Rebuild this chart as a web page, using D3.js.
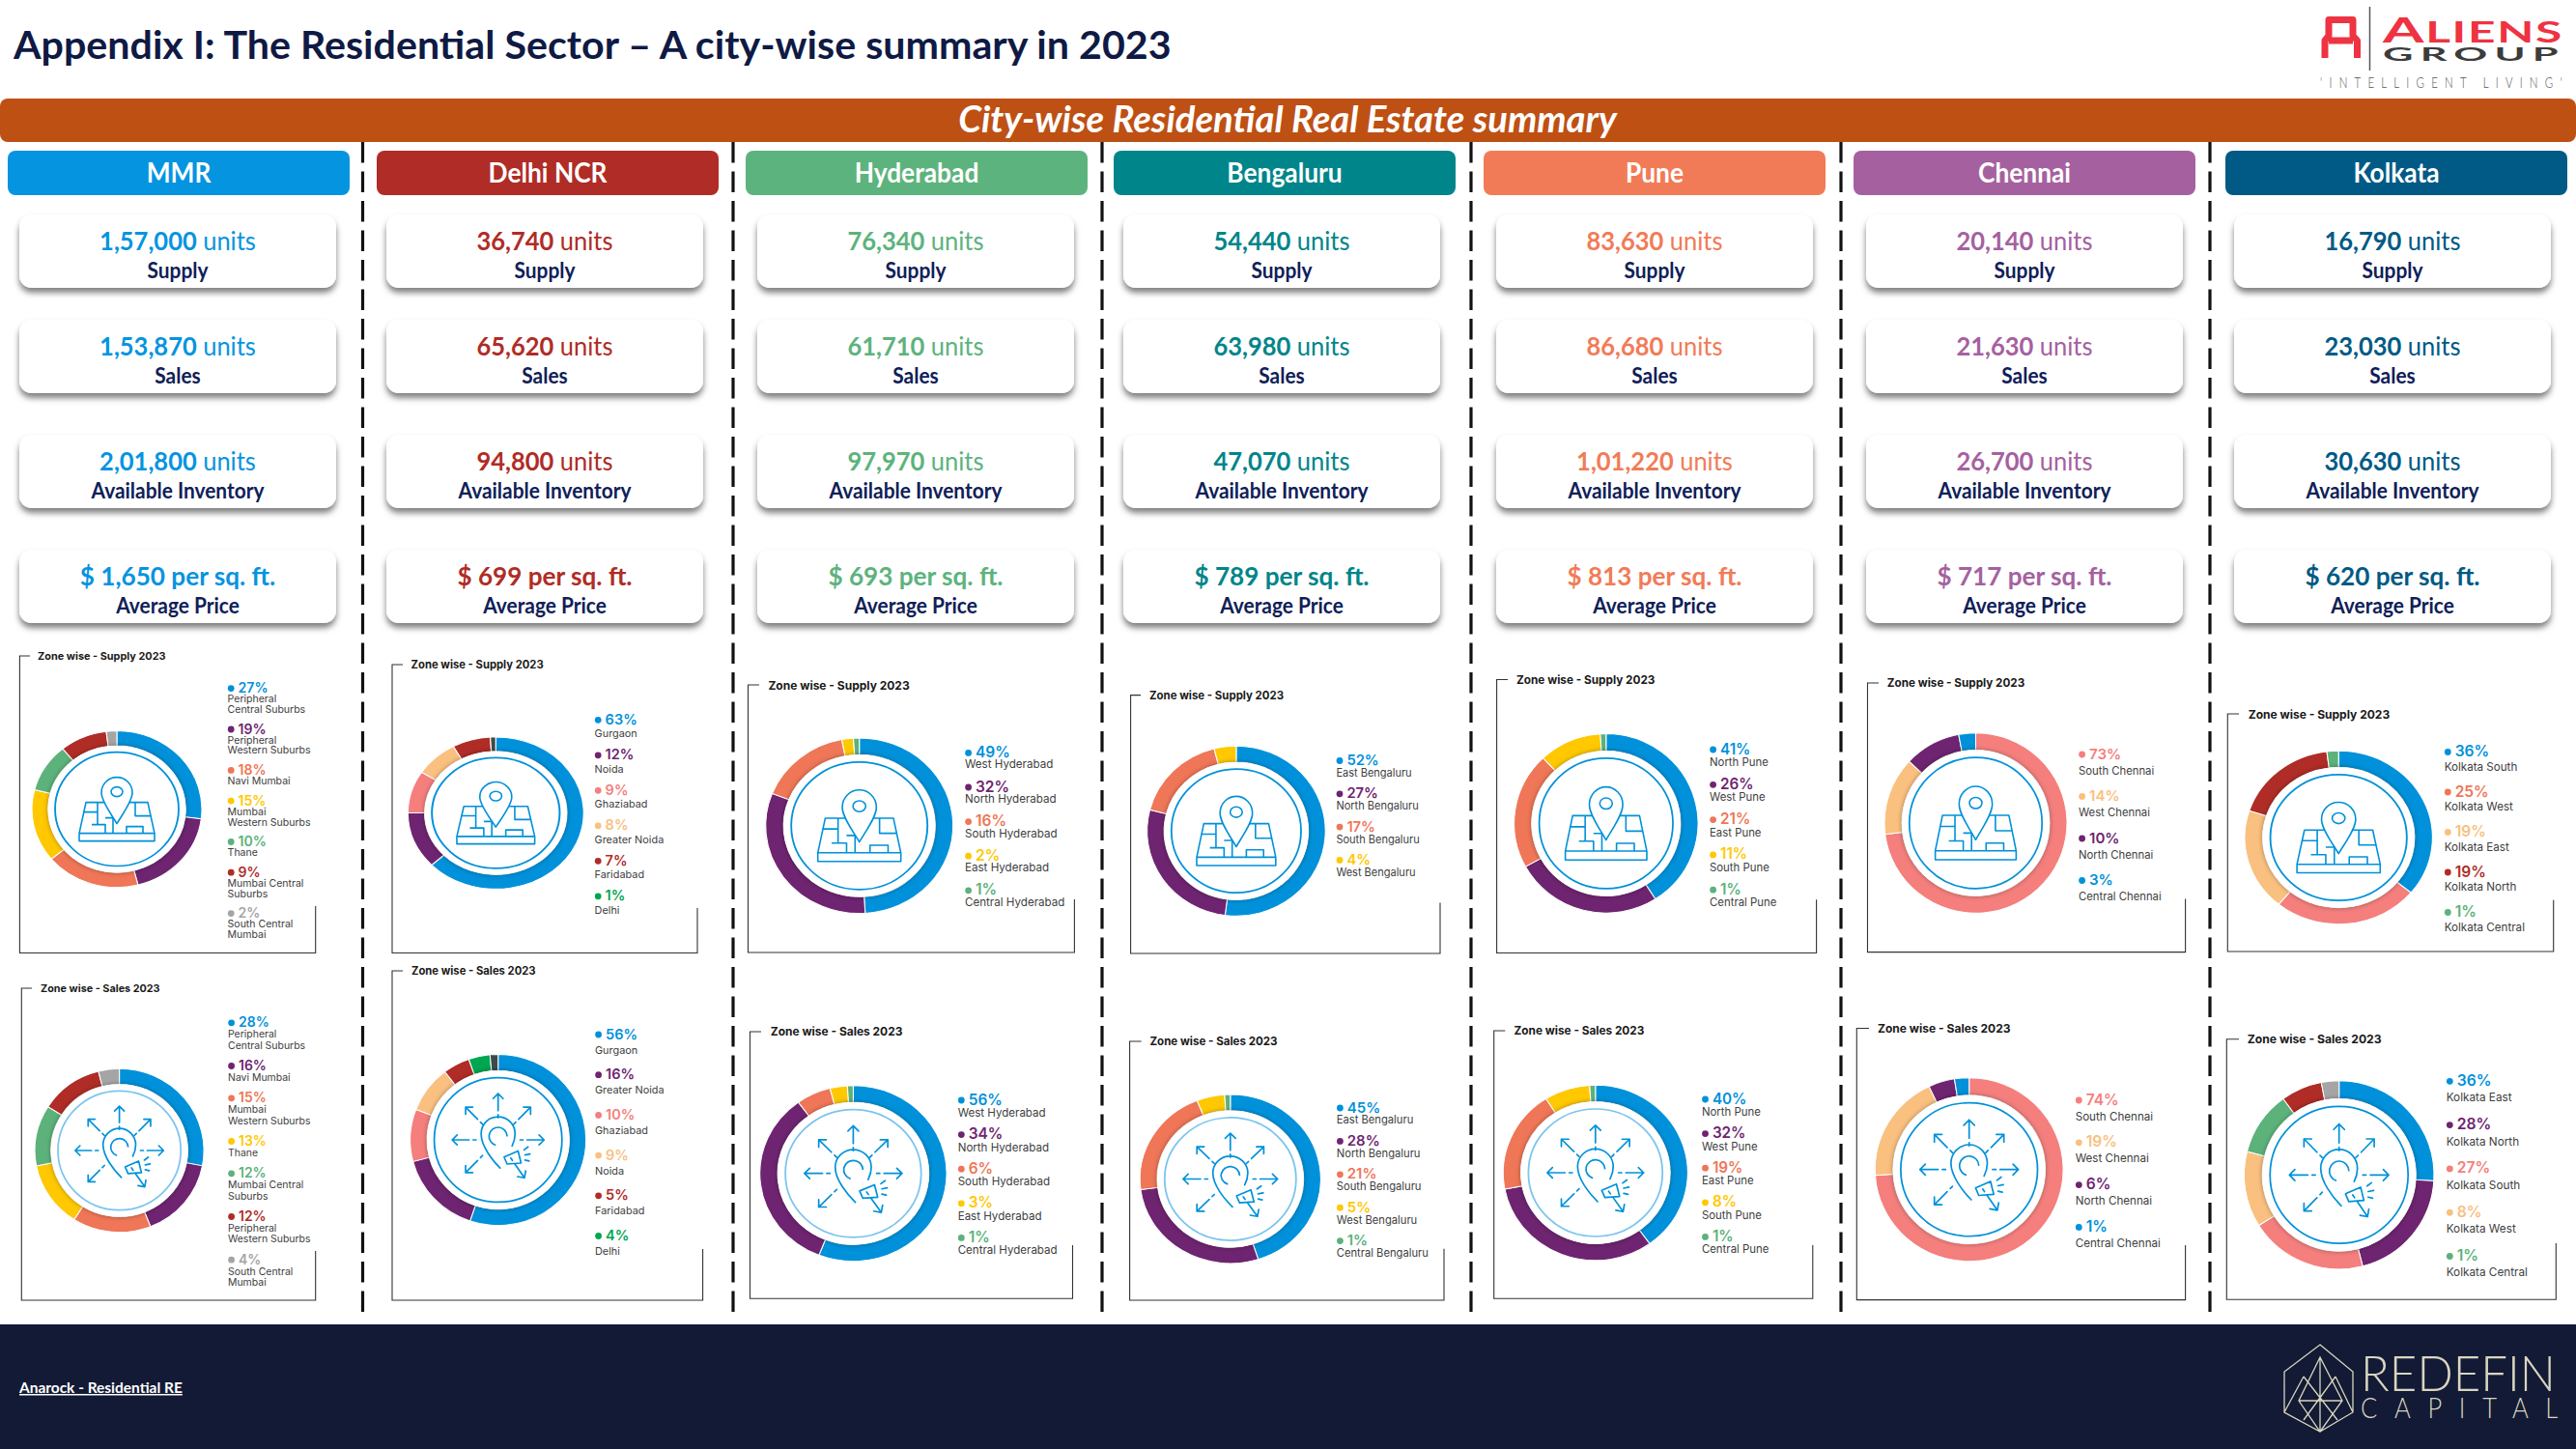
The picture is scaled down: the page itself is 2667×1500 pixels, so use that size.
<!DOCTYPE html>
<html>
<head>
<meta charset="utf-8">
<title>City-wise Residential Real Estate summary</title>
<script src="https://cdn.jsdelivr.net/npm/d3@7"></script>
<style>
  html, body { margin: 0; padding: 0; background: #fff; }
  svg { display: block; }
  text { font-family: Lato, "Open Sans", sans-serif; }
  .zone text { font-family: Inter, "DejaVu Sans", sans-serif; }
</style>
</head>
<body>
<div id="chart"></div>
<script>
// 1) Data
const cities = ["MMR", "Delhi NCR", "Hyderabad", "Bengaluru", "Pune", "Chennai", "Kolkata"];
const supplyUnits = ["1,57,000", "36,740", "76,340", "54,440", "83,630", "20,140", "16,790"];
const salesUnits = ["1,53,870", "65,620", "61,710", "63,980", "86,680", "21,630", "23,030"];
const inventoryUnits = ["2,01,800", "94,800", "97,970", "47,070", "1,01,220", "26,700", "30,630"];
const avgPrice = ["1,650", "699", "693", "789", "813", "717", "620"];

// "|" is a line break in the legend label
const supplyZones = [
  ["Peripheral|Central Suburbs", "Peripheral|Western Suburbs", "Navi Mumbai", "Mumbai|Western Suburbs", "Thane", "Mumbai Central|Suburbs", "South Central|Mumbai"],
  ["Gurgaon", "Noida", "Ghaziabad", "Greater Noida", "Faridabad", "Delhi"],
  ["West Hyderabad", "North Hyderabad", "South Hyderabad", "East Hyderabad", "Central Hyderabad"],
  ["East Bengaluru", "North Bengaluru", "South Bengaluru", "West Bengaluru"],
  ["North Pune", "West Pune", "East Pune", "South Pune", "Central Pune"],
  ["South Chennai", "West Chennai", "North Chennai", "Central Chennai"],
  ["Kolkata South", "Kolkata West", "Kolkata East", "Kolkata North", "Kolkata Central"]
];
const supplyShares = [
  [27, 19, 18, 15, 10, 9, 2],
  [63, 12, 9, 8, 7, 1],
  [49, 32, 16, 2, 1],
  [52, 27, 17, 4],
  [41, 26, 21, 11, 1],
  [73, 14, 10, 3],
  [36, 25, 19, 19, 1]
];
const salesZones = [
  ["Peripheral|Central Suburbs", "Navi Mumbai", "Mumbai|Western Suburbs", "Thane", "Mumbai Central|Suburbs", "Peripheral|Western Suburbs", "South Central|Mumbai"],
  ["Gurgaon", "Greater Noida", "Ghaziabad", "Noida", "Faridabad", "Delhi"],
  ["West Hyderabad", "North Hyderabad", "South Hyderabad", "East Hyderabad", "Central Hyderabad"],
  ["East Bengaluru", "North Bengaluru", "South Bengaluru", "West Bengaluru", "Central Bengaluru"],
  ["North Pune", "West Pune", "East Pune", "South Pune", "Central Pune"],
  ["South Chennai", "West Chennai", "North Chennai", "Central Chennai"],
  ["Kolkata East", "Kolkata North", "Kolkata South", "Kolkata West", "Kolkata Central"]
];
const salesShares = [
  [28, 16, 15, 13, 12, 12, 4],
  [56, 16, 10, 9, 5, 4],
  [56, 34, 6, 3, 1],
  [45, 28, 21, 5, 1],
  [40, 32, 19, 8, 1],
  [74, 19, 6, 1],
  [36, 28, 27, 8, 1]
];
// what the rings actually show (not always the same as the printed legend)
const supplySlices = [
  [27, 19, 18, 15, 10, 9, 2],
  [63, 12, 9, 8, 7, 1],
  [49, 32, 16, 2, 1],
  [52, 27, 17, 4],
  [41, 26, 21, 11, 1],
  [73, 14, 10, 3],
  [36, 25, 19, 18, 2]
];
const salesSlices = [
  [28, 16, 15, 13, 12, 12, 4],
  [56, 16, 10, 9, 5, 4, 1.5],
  [56, 34, 6, 3, 1],
  [45, 28, 21, 5, 1],
  [40, 32, 19, 8, 1],
  [74, 19, 4.5, 2.5],
  [26, 20, 20, 13, 11, 7, 3]
];

// 2) Colours
const blue = "#0091da", purple = "#6e2470", coral = "#ef7657", yellow = "#ffc800", green = "#5cb27a",
      crimson = "#b02c26", gray = "#a5a5a5", peach = "#fac07f", salmon = "#f47f7d", emerald = "#00a650", slate = "#3b4b4b";
const cityColors = ["#0594df", "#b02c26", "#5db37d", "#00858a", "#f27b57", "#a5619f", "#005a85"];

const supplyDots = [
  [blue, purple, coral, yellow, green, crimson, gray],
  [blue, purple, salmon, peach, crimson, emerald],
  [blue, purple, coral, yellow, green],
  [blue, purple, coral, yellow],
  [blue, purple, coral, yellow, green],
  [salmon, peach, purple, blue],
  [blue, coral, peach, crimson, green]
];
const supplyRing = [
  supplyDots[0],
  [blue, purple, salmon, peach, crimson, slate],
  supplyDots[2], supplyDots[3], supplyDots[4], supplyDots[5],
  [blue, salmon, peach, crimson, green]
];
const salesDots = [
  [blue, purple, coral, yellow, green, crimson, gray],
  [blue, purple, salmon, peach, crimson, emerald],
  [blue, purple, coral, yellow, green],
  [blue, purple, coral, yellow, green],
  [blue, purple, coral, yellow, green],
  [salmon, peach, purple, blue],
  [blue, purple, salmon, peach, green]
];
const salesRing = [
  salesDots[0],
  [blue, purple, salmon, peach, crimson, emerald, slate],
  salesDots[2], salesDots[3], salesDots[4], salesDots[5],
  [blue, purple, salmon, peach, green, crimson, gray]
];
const salesCircle = ["#7cc5ee", blue, "#7cc5ee", "#7cc5ee", "#7cc5ee", blue, blue];

// 3) Page layout
const W = 2667, H = 1500;
const headerLeft = [8, 390, 772, 1153, 1536, 1919, 2304], headerW = 354;
const cardLeft = [20, 400, 784, 1163, 1549, 1932, 2313], cardW = 328, cardH = 76;
const cardTop = [222, 331, 450, 569];
const sepX = [375.5, 759, 1141, 1523, 1906, 2288];

// frame: l,t,r,b,rt (top of right edge), tick, tx (title x); ring: cx,cy,rx,ry; legend: lx,ly,off,lh,gap
const supplyBoxes = [
  {l:20.4, t:679, r:326.7, b:986.5, rt:938, tick:31, tx:39, cx:121, cy:837.6, rx:88, ry:81, lx:235.6, ly:711.6, off:11.7, lh:10.7, gap:20},
  {l:406, t:688, r:722, b:986.5, rt:940, tick:417, tx:425.6, cx:513.3, cy:841.6, rx:91, ry:78.7, lx:615.6, ly:744.3, off:14.8, lh:11, gap:21.7},
  {l:774.5, t:709, r:1112.4, b:986, rt:931, tick:786, tx:795.4, cx:889.7, cy:854.8, rx:97, ry:90.8, lx:999, ly:778.4, off:13, lh:11, gap:22.6},
  {l:1170.6, t:719.6, r:1491, b:987, rt:934.4, tick:1181, tx:1190, cx:1279.9, cy:860.2, rx:92.3, ry:88, lx:1383.4, ly:786.5, off:13.4, lh:11, gap:20.9},
  {l:1549.6, t:703.5, r:1880.6, b:986.5, rt:931.3, tick:1561, tx:1570, cx:1662.8, cy:852.4, rx:95.2, ry:92.8, lx:1770, ly:775, off:13.9, lh:11, gap:22.4},
  {l:1933.5, t:707, r:2262.6, b:985.6, rt:930.4, tick:1945, tx:1953.8, cx:2045.5, cy:852, rx:94.5, ry:93.3, lx:2152, ly:780, off:17.5, lh:11, gap:26},
  {l:2306.3, t:739, r:2643.7, b:985, rt:931.7, tick:2318, tx:2327.7, cx:2421.2, cy:867, rx:97.2, ry:89.7, lx:2530.7, ly:777.5, off:16.1, lh:11, gap:25.4}
];
const salesBoxes = [
  {l:22.3, t:1023, r:326.7, b:1346, rt:1295, tick:33, tx:42, cx:123.6, cy:1191, rx:87.5, ry:84.7, lx:236, ly:1057.8, off:12.3, lh:11.4, gap:21},
  {l:406, t:1005, r:727.6, b:1346, rt:1293, tick:417, tx:426, cx:515.7, cy:1180, rx:91, ry:88.6, lx:616, ly:1070, off:16.6, lh:11, gap:25.1},
  {l:776.5, t:1068, r:1110.5, b:1344.3, rt:1289, tick:788, tx:797.8, cx:883.4, cy:1214.7, rx:96.7, ry:91, lx:991.7, ly:1138, off:13.9, lh:11, gap:21.7},
  {l:1169.6, t:1078, r:1495, b:1346, rt:1292.7, tick:1181.7, tx:1190.4, cx:1273.8, cy:1220.5, rx:93.6, ry:87.4, lx:1383.8, ly:1146, off:13.4, lh:11, gap:21},
  {l:1546.7, t:1067, r:1876.8, b:1344.3, rt:1289, tick:1558.3, tx:1567.5, cx:1651.8, cy:1214, rx:95.5, ry:90.8, lx:1761.9, ly:1137, off:14, lh:11, gap:21.6},
  {l:1922.3, t:1064.5, r:2262.6, b:1345.6, rt:1289, tick:1935, tx:1944, cx:2038.7, cy:1210.7, rx:97.4, ry:95, lx:2148.7, ly:1138, off:17.5, lh:11, gap:26.3},
  {l:2305.3, t:1075.7, r:2646.3, b:1345.2, rt:1287, tick:2318, tx:2326.7, cx:2421.7, cy:1216.3, rx:98.3, ry:97.5, lx:2532.7, ly:1118.3, off:17.9, lh:11, gap:27.4}
];

const svg = d3.select("#chart").append("svg")
  .attr("width", W).attr("height", H).attr("viewBox", `0 0 ${W} ${H}`);

// shadows
const defs = svg.append("defs");
const cardShadow = defs.append("filter").attr("id", "cardShadow")
  .attr("x", "-5%").attr("y", "-15%").attr("width", "110%").attr("height", "140%");
cardShadow.append("feDropShadow").attr("dx", 0).attr("dy", 5).attr("stdDeviation", 3.2)
  .attr("flood-color", "#000").attr("flood-opacity", 0.5);
const discShadow = defs.append("filter").attr("id", "discShadow")
  .attr("x", "-15%").attr("y", "-15%").attr("width", "130%").attr("height", "130%");
discShadow.append("feDropShadow").attr("dx", 0).attr("dy", 0).attr("stdDeviation", 2.5)
  .attr("flood-color", "#000").attr("flood-opacity", 0.4);

// text squeezed or widened to a given width (the fonts here are not the originals)
function fitWidth(sel, width) {
  const x = +sel.attr("x"), y = +sel.attr("y"), len = sel.node().getComputedTextLength();
  sel.attr("x", null).attr("y", null)
    .attr("transform", `translate(${x},${y}) scale(${width / len},1)`);
}
function squeeze(sel, k) {
  const x = +sel.attr("x"), y = +sel.attr("y");
  sel.attr("x", null).attr("y", null)
    .attr("transform", `translate(${x},${y}) scale(${k},1)`);
}

// 4) Title, band and footer
svg.append("text").attr("x", 14).attr("y", 61)
  .attr("font-size", 41).attr("font-weight", 700).attr("fill", "#0f1a44")
  .text("Appendix I: The Residential Sector – A city-wise summary in 2023")
  .call(fitWidth, 1199);

svg.append("rect").attr("x", 0).attr("y", 102).attr("width", W).attr("height", 45).attr("rx", 8)
  .attr("fill", "#be5014");
svg.append("text").attr("x", 1333).attr("y", 137).attr("text-anchor", "middle")
  .attr("font-size", 38).attr("font-weight", 700).attr("font-style", "italic").attr("fill", "#fff")
  .text("City-wise Residential Real Estate summary")
  .call(fitWidth, 682);

svg.append("g").selectAll("line").data(sepX).join("line")
  .attr("x1", d => d).attr("x2", d => d).attr("y1", 147).attr("y2", 1358)
  .attr("stroke", "#111").attr("stroke-width", 3.2).attr("stroke-dasharray", "21.5,9");

svg.append("rect").attr("x", 0).attr("y", 1371).attr("width", W).attr("height", H - 1371).attr("fill", "#131a36");
svg.append("text").attr("x", 20).attr("y", 1442)
  .attr("font-size", 15).attr("font-weight", 700).attr("fill", "#fff").attr("text-decoration", "underline")
  .text("Anarock - Residential RE")
  .call(fitWidth, 169);

// 5) City headers and the four cards of each column
const metricNames = ["Supply", "Sales", "Available Inventory", "Average Price"];
const metricValues = [supplyUnits, salesUnits, inventoryUnits, avgPrice];

cities.forEach((city, i) => {
  const col = svg.append("g").attr("class", "city");
  col.append("rect").attr("x", headerLeft[i]).attr("y", 156).attr("width", headerW).attr("height", 46)
    .attr("rx", 8).attr("fill", cityColors[i]);
  col.append("text").attr("x", headerLeft[i] + headerW / 2).attr("y", 189).attr("text-anchor", "middle")
    .attr("font-size", 28).attr("font-weight", 700).attr("fill", "#fff").text(city)
    .call(squeeze, 0.94);

  const cx = cardLeft[i] + cardW / 2;
  metricNames.forEach((name, m) => {
    const top = cardTop[m];
    col.append("rect").attr("x", cardLeft[i]).attr("y", top).attr("width", cardW).attr("height", cardH)
      .attr("rx", 13).attr("fill", "#fff").attr("filter", "url(#cardShadow)");
    const val = col.append("text").attr("x", cx).attr("y", top + 37).attr("text-anchor", "middle")
      .attr("fill", cityColors[i]);
    if (m < 3) {
      val.attr("font-size", 26);
      val.append("tspan").attr("font-weight", 700).text(metricValues[m][i]);
      val.append("tspan").text(" units");
      val.call(squeeze, 0.98);
    } else {
      val.attr("font-size", 27.5).attr("font-weight", 700).text(`$ ${metricValues[m][i]} per sq. ft.`);
      val.call(squeeze, 0.95);
    }
    col.append("text").attr("x", cx).attr("y", top + 66).attr("text-anchor", "middle")
      .attr("font-size", 22).attr("font-weight", 700).attr("fill", "#0f2058").text(name)
      .call(squeeze, 0.95);
  });
});

// 6) Ring icons, drawn at the size of the MMR rings
function mapIcon(g) {
  const lines = g.append("g").attr("fill", "none").attr("stroke", blue).attr("stroke-width", 1.6)
    .attr("stroke-linejoin", "round");
  lines.append("path").attr("vector-effect", "non-scaling-stroke")
    .attr("d", "M-32,-7L-39,25V33H39V25L32,-7ZM-39,25H39M-35,3H-20V16H-12V25M-12,16H-26M-31,-7H-20V3M19,-7V7H35M10,25V18H27V25M-12,9H-4V25");
  lines.append("path").attr("vector-effect", "non-scaling-stroke").attr("fill", "#fff")
    .attr("d", "M0,15C-6,5 -16,-8 -16,-17A16,16 0 1 1 16,-17C16,-8 6,5 0,15Z");
  lines.append("ellipse").attr("vector-effect", "non-scaling-stroke")
    .attr("cx", 0).attr("cy", -18).attr("rx", 6).attr("ry", 5).attr("fill", "#fff");
}
const arrowAngles = [0, 45, -45, 90, -90, -135, 145];
function earIcon(g) {
  const lines = g.append("g").attr("fill", "none").attr("stroke", blue).attr("stroke-width", 1.7)
    .attr("stroke-linecap", "round").attr("stroke-linejoin", "round");
  lines.selectAll("path.arrow").data(arrowAngles).join("path").attr("class", "arrow")
    .attr("vector-effect", "non-scaling-stroke")
    .attr("transform", d => `rotate(${d})`)
    .attr("d", "M0,-22V-25M0,-29V-46M-5,-41L0,-46L5,-41");
  lines.append("path").attr("vector-effect", "non-scaling-stroke")
    .attr("d", "M2,28C-6,20 -17,6 -17,-6A17,17 0 1 1 17,-6C17,-2 16,2 14,6");
  lines.append("path").attr("vector-effect", "non-scaling-stroke")
    .attr("d", "M9,-4A9,9 0 1 0 -3,5");
  lines.append("path").attr("vector-effect", "non-scaling-stroke")
    .attr("d", "M6,17L20,11L23,23L9,24ZM26,10L30,7M27,15L32,14M27,20L31,21");
}

// 7) Zone panels: frame, ring and legend
const pie = d3.pie().sort(null).value(d => d);
const arc = d3.arc();

function drawPanel(box, titleText, shares, zones, dots, slices, ring, circleColor, icon) {
  const g = svg.append("g").attr("class", "zone");
  const k = box.rx / 97;

  g.append("path").attr("fill", "none").attr("stroke", "#333").attr("stroke-width", 1.1)
    .attr("d", `M${box.tick},${box.t}H${box.l}V${box.b}H${box.r}V${box.rt}`);
  g.append("text").attr("x", box.tx).attr("y", box.t + 4.5 * k)
    .attr("font-size", 12 * k).attr("font-weight", 700).attr("fill", "#1a1a1a").text(titleText);

  // ring is stretched sideways in the original
  const donut = g.append("g")
    .attr("transform", `translate(${box.cx},${box.cy}) scale(${box.rx / box.ry},1)`);
  donut.selectAll("path").data(pie(slices)).join("path")
    .attr("d", d => arc({ ...d, innerRadius: box.ry * 0.81, outerRadius: box.ry }))
    .attr("fill", (d, i) => ring[i])
    .attr("stroke", "#fff").attr("stroke-width", 1);
  donut.append("circle").attr("r", box.ry * 0.81).attr("fill", "#fff").attr("filter", "url(#discShadow)");
  donut.append("circle").attr("r", box.ry * 0.727).attr("fill", "none")
    .attr("stroke", circleColor).attr("stroke-width", 1.7);

  const iconBase = icon === mapIcon ? 81 : 85;
  g.append("g")
    .attr("transform", `translate(${box.cx},${box.cy}) scale(${box.rx / 88},${box.ry / iconBase})`)
    .call(icon);

  // legend rows, flowing down from the first percentage
  let y = box.ly;
  zones.forEach((zone, i) => {
    const row = g.append("g");
    row.append("circle").attr("cx", box.lx + 3.6).attr("cy", y + 1).attr("r", 3.4).attr("fill", dots[i]);
    row.append("text").attr("x", box.lx + 11).attr("y", y + 5.5)
      .attr("font-size", 15.5 * k).attr("font-weight", 600).attr("fill", dots[i]).text(shares[i] + "%");
    const parts = zone.split("|");
    parts.forEach((part, p) => {
      row.append("text").attr("x", box.lx).attr("y", y + box.off + 4 + p * box.lh)
        .attr("font-size", 11.6 * k).attr("fill", "#404040").text(part);
    });
    y += box.off + (parts.length - 1) * box.lh + box.gap;
  });
}

cities.forEach((city, i) => {
  drawPanel(supplyBoxes[i], "Zone wise - Supply 2023", supplyShares[i], supplyZones[i],
    supplyDots[i], supplySlices[i], supplyRing[i], blue, mapIcon);
  drawPanel(salesBoxes[i], "Zone wise - Sales 2023", salesShares[i], salesZones[i],
    salesDots[i], salesSlices[i], salesRing[i], salesCircle[i], earIcon);
});

// 8) Logos
const aliens = svg.append("g").attr("class", "logo");
aliens.append("path").attr("fill", "none").attr("stroke", "#ee3342").attr("stroke-width", 7)
  .attr("stroke-linejoin", "round")
  .attr("d", "M2407,60V42L2411,37V20.5H2436V37L2440.5,42V60M2411,42H2436");
aliens.append("line").attr("x1", 2453.5).attr("x2", 2453.5).attr("y1", 7).attr("y2", 73)
  .attr("stroke", "#555").attr("stroke-width", 1.5);
const aliensWord = aliens.append("text").attr("x", 2467).attr("y", 44)
  .attr("font-family", "Liberation Sans").attr("font-weight", 700).attr("fill", "#ee3342").attr("letter-spacing", 1);
aliensWord.append("tspan").attr("font-size", 37).text("A");
aliensWord.append("tspan").attr("font-size", 30).text("LIENS");
aliensWord.call(fitWidth, 187);
aliens.append("text").attr("x", 2467).attr("y", 62.5)
  .attr("font-family", "Liberation Sans").attr("font-weight", 700).attr("font-size", 18).attr("fill", "#3c3c3c")
  .attr("letter-spacing", 3).text("GROUP")
  .call(fitWidth, 189);
aliens.append("text").attr("x", 2402).attr("y", 91)
  .attr("font-size", 16).attr("font-weight", 300).attr("fill", "#555").attr("letter-spacing", 10)
  .text("'INTELLIGENT LIVING'")
  .call(fitWidth, 258);

const redefin = svg.append("g").attr("class", "logo");
redefin.append("path").attr("fill", "none").attr("stroke", "#d8d6be").attr("stroke-width", 1.3)
  .attr("d", "M2402,1392L2436,1420V1462L2402,1482L2365,1462V1420ZM2402,1405L2380,1450L2402,1482L2425,1450ZM2402,1405V1482M2380,1450L2425,1450M2385,1425L2365,1462M2385,1425L2420,1470M2418,1425L2436,1462M2418,1425L2385,1470");
redefin.append("text").attr("x", 2444).attr("y", 1440)
  .attr("font-family", "Open Sans").attr("font-weight", 300).attr("font-size", 52).attr("fill", "#d8d6be")
  .text("REDEFIN").call(fitWidth, 202);
redefin.append("text").attr("x", 2444).attr("y", 1468)
  .attr("font-family", "Open Sans").attr("font-weight", 300).attr("font-size", 29).attr("fill", "#d8d6be")
  .attr("letter-spacing", 20).text("CAPITAL").call(fitWidth, 222);
</script>
</body>
</html>
